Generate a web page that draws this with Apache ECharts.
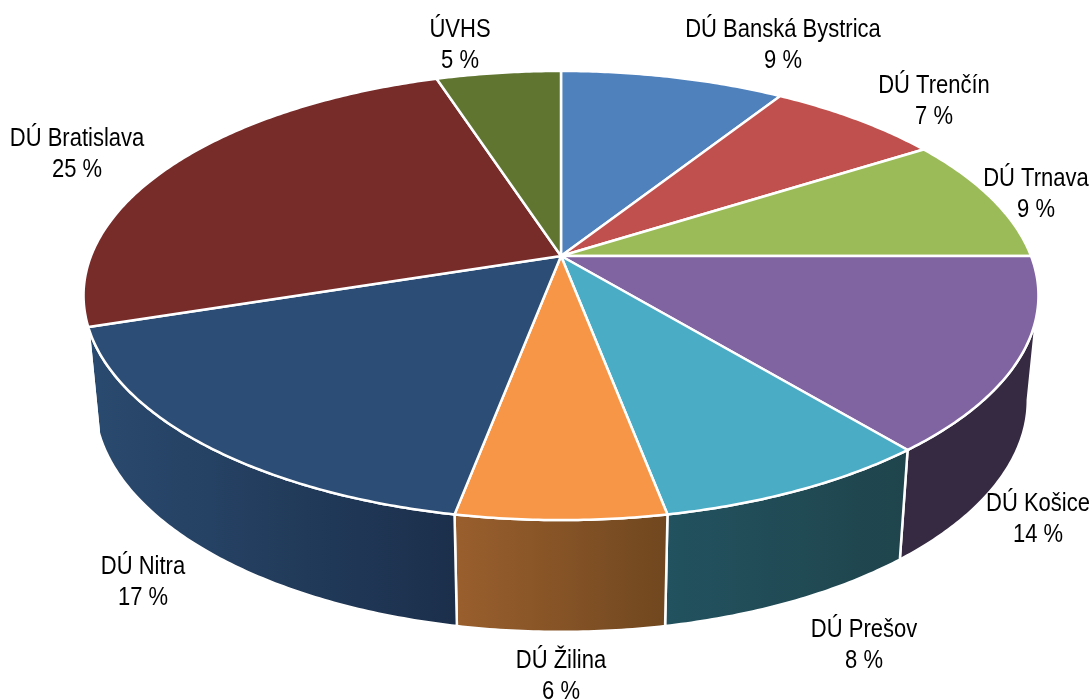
<!DOCTYPE html>
<html>
<head>
<meta charset="utf-8">
<style>
  html, body { margin: 0; padding: 0; background: #fff; }
  #chart { width: 1092px; height: 699px; }
</style>
</head>
<body>
<div id="chart"></div>
<script src="https://cdn.jsdelivr.net/npm/echarts@6/dist/echarts.min.js"></script>
<script>
const names = ['DÚ Banská Bystrica', 'DÚ Trenčín', 'DÚ Trnava', 'DÚ Košice', 'DÚ Prešov', 'DÚ Žilina', 'DÚ Nitra', 'DÚ Bratislava', 'ÚVHS'];
const values = [9, 7, 9, 14, 8, 6, 17, 25, 5];

const topColors = ['#4f81bd', '#c0504d', '#9bbb59', '#8064a2', '#4bacc6', '#f79646', '#2c4d75', '#772c2a', '#5f7530'];
const sideLeft = ['#2f4d71', '#732f2e', '#5d7035', '#352a41', '#22525f', '#9a5f2d', '#2a4a6f', '#772c2a', '#4c5e26'];
const sideRight = ['#2f4d71', '#732f2e', '#5d7035', '#352a41', '#1f444c', '#70471f', '#1b2f4b', '#772c2a', '#4c5e26'];

// label centres, in px
const labelX = [783, 934, 1036, 1038, 864, 561, 143, 77, 460];
const labelY = [46, 102, 195, 520, 646, 677, 583, 155, 46];

// perspective of the disc: top face and bottom face share the tilt
const tilt = 0.176;
const centerX = 561;
const topFace = { a: 470, b: 217.6, c: 256 };
const bottomFace = { a: 459.5, b: 224.6, c: 359.3 };

// angle where the rim turns away from the viewer
const edgeAngle = Math.acos(-tilt);

const total = values.reduce((s, v) => s + v, 0);
const starts = [];
values.reduce((acc, v, i) => {
  starts[i] = acc / total * Math.PI * 2;
  return acc + v;
}, 0);

function project(face, angle) {
  const u = Math.sin(angle);
  const v = Math.cos(angle);
  const d = 1 + tilt * v;
  return [centerX + face.a * u / d, face.c - face.b * v / d];
}

function arc(face, from, to) {
  const steps = Math.max(2, Math.ceil((to - from) / 0.01));
  const pts = [];
  for (let i = 0; i <= steps; i++) {
    pts.push(project(face, from + (to - from) * i / steps));
  }
  return pts;
}

function sliceEnd(i) {
  return starts[i] + values[i] / total * Math.PI * 2;
}

function renderSide(params) {
  const i = params.dataIndex;
  const from = Math.max(starts[i], edgeAngle);
  const to = Math.min(sliceEnd(i), Math.PI * 2 - edgeAngle);
  if (to <= from) return null;
  const points = arc(topFace, from, to).concat(arc(bottomFace, from, to).reverse());
  return {
    type: 'polygon',
    shape: { points: points },
    style: {
      fill: new echarts.graphic.LinearGradient(0, 0, 1, 0, [
        { offset: 0, color: sideLeft[i] },
        { offset: 1, color: sideRight[i] }
      ]),
      stroke: '#fff',
      lineWidth: 2.5
    }
  };
}

function renderTop(params) {
  const i = params.dataIndex;
  const points = [[centerX, topFace.c]].concat(arc(topFace, starts[i], sliceEnd(i)));
  return {
    type: 'polygon',
    shape: { points: points },
    style: { fill: topColors[i], stroke: '#fff', lineWidth: 2.5 }
  };
}

function renderLabel(params, api) {
  const i = params.dataIndex;
  return {
    type: 'text',
    x: labelX[i],
    y: labelY[i],
    scaleX: 0.88,
    style: {
      x: 0,
      y: 0,
      text: names[i] + '\n' + api.value(0) + ' %',
      align: 'center',
      verticalAlign: 'middle',
      fontFamily: '"Liberation Sans", Arial, sans-serif',
      fontSize: 25,
      lineHeight: 31,
      fill: '#000'
    }
  };
}

const myChart = echarts.init(document.getElementById('chart'), null, { renderer: 'canvas' });
myChart.setOption({
  animation: false,
  backgroundColor: '#fff',
  series: [
    { type: 'custom', coordinateSystem: 'none', silent: true, z: 1, data: values, renderItem: renderSide },
    { type: 'custom', coordinateSystem: 'none', silent: true, z: 2, data: values, renderItem: renderTop },
    { type: 'custom', coordinateSystem: 'none', silent: true, z: 3, data: values, renderItem: renderLabel }
  ]
});
</script>
</body>
</html>
